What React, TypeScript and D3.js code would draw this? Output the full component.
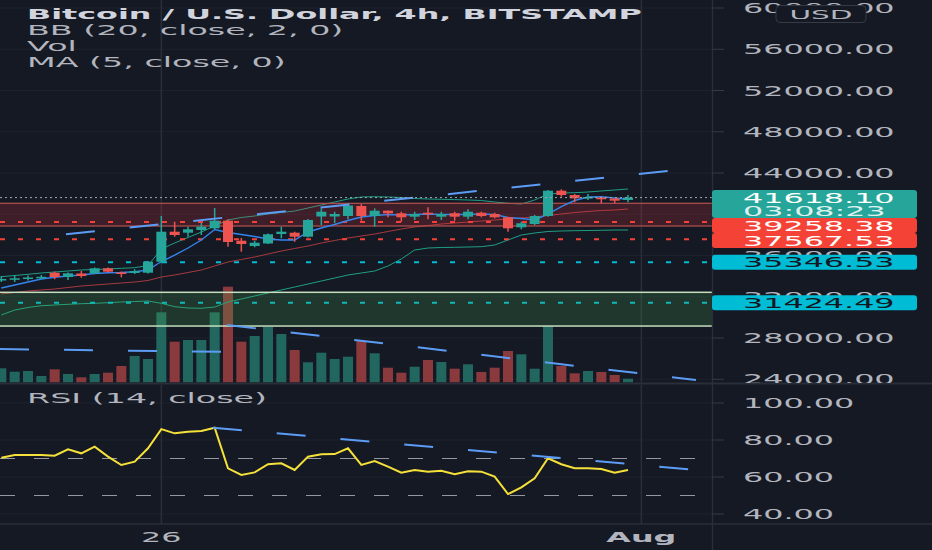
import React from 'react';
import * as d3 from 'd3';

const WIDTH = 932;
const HEIGHT = 550;
const FONT = '"DejaVu Sans", sans-serif';
const STRETCH = 2.27; // the screenshot is stretched sideways

// BTC/USD 4h bars, BITSTAMP, from 24 Jul 2021 00:00 UTC
const firstBar = Date.UTC(2021, 6, 24, 0);
const barMs = 4 * 3600 * 1000;

const opens = [33624, 33721, 33770, 33838, 34332, 33915, 34255, 34274, 34759, 34351, 34303, 34332, 35399, 38308, 38211, 38473, 38637, 39374, 37435, 36921, 37164, 38085, 38211, 37823, 39782, 39782, 39830, 40800, 39830, 40344, 40092, 39762, 40150, 39762, 40092, 39762, 40150, 40024, 39704, 38734, 39055, 39830, 42284, 41867, 41527, 41624, 41527, 41382];
const highs = [34012, 34109, 34061, 34109, 34448, 34351, 34497, 34836, 34836, 34448, 34662, 35467, 39830, 39277, 38793, 39151, 40606, 39510, 37697, 37435, 38133, 38793, 38308, 39539, 40577, 40247, 41062, 40994, 40577, 40364, 40247, 40247, 40674, 40247, 40247, 40480, 40247, 40150, 39762, 39277, 39927, 42351, 42419, 41964, 41964, 41702, 41547, 41867];
const lows = [33430, 33430, 33575, 33721, 33692, 33624, 33848, 34206, 34351, 33886, 34206, 34255, 35243, 37823, 37823, 37988, 38541, 36853, 36368, 36795, 37115, 37668, 37338, 37745, 38958, 39122, 39510, 39374, 38793, 39704, 39277, 39442, 39510, 39442, 39374, 39510, 39704, 39607, 38308, 38541, 38958, 39762, 41702, 41159, 41382, 41062, 41062, 41159];
const closes = [33721, 33790, 33867, 33935, 33915, 34274, 34012, 34759, 34429, 34206, 34497, 35399, 38308, 37988, 38541, 38793, 39374, 37309, 37115, 37241, 38056, 38308, 37823, 39442, 40247, 40024, 40849, 39830, 40344, 40092, 39704, 40024, 39995, 40024, 39762, 40247, 39830, 39704, 38637, 39122, 39830, 42284, 41867, 41547, 41673, 41450, 41314, 41618.1];
const volumes = [1400, 1060, 1130, 630, 1300, 830, 500, 830, 960, 1630, 2630, 2330, 7000, 4060, 4230, 4230, 7000, 9560, 4060, 4630, 5560, 4830, 3230, 2000, 2960, 2330, 2560, 4160, 2900, 1460, 960, 1560, 2230, 2030, 1360, 1800, 1030, 1460, 3130, 2800, 1360, 5630, 1630, 900, 1130, 1030, 730, 360];

const maFive = [32848, 33139, 33430, 33721, 33886, 34012, 34109, 34255, 34332, 34351, 34429, 34594, 35418, 36048, 36727, 37503, 38521, 38230, 38036, 37842, 37600, 37503, 37503, 38279, 38667, 39006, 39394, 39733, 39879, 39976, 39927, 39976, 40024, 39976, 39976, 39976, 40024, 39976, 39685, 39588, 39442, 40024, 40732, 41333, 41673, 41702, 41576, 41430];
const bbUpper = [33944, 34061, 34177, 34303, 34400, 34497, 34594, 34642, 34691, 34759, 34817, 35030, 36630, 37212, 37745, 38279, 38861, 39442, 39685, 39830, 40024, 40170, 40315, 40606, 40897, 41188, 41479, 41673, 41702, 41673, 41624, 41527, 41479, 41450, 41421, 41382, 41333, 41188, 41062, 40994, 41382, 41964, 42061, 42090, 42158, 42255, 42352, 42448];
const bbBasis = [32267, 32412, 32558, 32655, 32751, 32897, 33042, 33139, 33236, 33333, 33430, 33576, 33915, 34109, 34351, 34594, 34982, 35370, 35612, 35855, 36145, 36436, 36679, 36921, 37212, 37455, 37697, 37891, 38085, 38327, 38570, 38764, 38909, 39055, 39151, 39248, 39345, 39442, 39539, 39636, 39733, 39879, 40024, 40170, 40267, 40364, 40412, 40509];
const bbLower = [30230, 30715, 30958, 31132, 31200, 31268, 31326, 31365, 31423, 31491, 31539, 31588, 31365, 31035, 30909, 30880, 31006, 31491, 31782, 32073, 32364, 32655, 32945, 33236, 33527, 33818, 34109, 34303, 34497, 34982, 35661, 36533, 36727, 36776, 36795, 36824, 36853, 37018, 37503, 37988, 38182, 38327, 38376, 38405, 38424, 38444, 38473, 38473];
const rsiValues = [70.4, 71.9, 71.9, 71.9, 71.5, 75.0, 72.8, 76.4, 71.0, 66.5, 68.3, 75.5, 85.9, 83.6, 84.5, 84.9, 86.6, 64.7, 61.1, 62.5, 66.9, 67.4, 63.8, 71.0, 72.3, 72.4, 75.5, 66.5, 68.6, 65.6, 62.3, 63.8, 62.9, 63.4, 61.5, 63.1, 62.9, 60.2, 50.8, 54.4, 59.3, 70.1, 66.9, 64.7, 64.7, 64.3, 62.3, 63.8];

const priceTicks = [24000, 28000, 32000, 36000, 40000, 44000, 48000, 52000, 56000, 60000];
const rsiTicks = [40, 60, 80, 100];
const rsiLevels = [70, 50];
const timeTicks = [
  { date: Date.UTC(2021, 6, 26), label: '26', bold: false },
  { date: Date.UTC(2021, 7, 1), label: 'Aug', bold: true },
];

const lastPrice = 41618.1;
const countdown = '03:08:23';
const redLevels = [39258.38, 37567.53];
const cyanLevels = [35346.53, 31424.49];
const redZone = [38860, 41062];
const greenZone = [29160, 32430];

// drawings: [bar index, value] anchors
const priceTrends = [
  [[4.85, 38056], [50.0, 44194]],
  [[-0.1, 26933], [17.3, 26642]],
  [[16.93, 29261], [52.1, 23927]],
];
const rsiTrend = [[15.87, 86.6], [52.2, 63.8]];

const fmt = d3.format('.2f');

function T(props: any) {
  const { x, y, sx = STRETCH, children, ...rest } = props;
  return (
    <text transform={`translate(${x},${y}) scale(${sx},1)`} fontFamily={FONT} fontSize={14} {...rest}>
      {children}
    </text>
  );
}

export default function App() {
  const x = d3
    .scaleUtc()
    .domain([new Date(firstBar), new Date(Date.UTC(2021, 7, 1))])
    .range([1.33, 641.33]);
  const xBar = (i: number) => x(new Date(firstBar + i * barMs));
  const y = d3.scaleLinear().domain([24000, 60000]).range([379.25, 8]);
  const yRsi = d3.scaleLinear().domain([40, 100]).range([514, 403]);
  const yVol = d3.scaleLinear().domain([0, d3.max(volumes) as number]).range([382.3, 286.7]);

  const paneRight = 712;
  const paneBottom = 383;
  const rsiBottom = 524;
  const up = '#26a69a';
  const down = '#ef5350';

  const priceLine = d3.line<number>().x((_, i) => xBar(i)).y(d => y(d));
  const rsiLine = d3.line<number>().x((_, i) => xBar(i)).y(d => yRsi(d));

  // right-axis price labels, pushed down when they collide
  const tags = [
    { price: lastPrice, fill: up, color: '#ffffff', lines: [fmt(lastPrice), countdown] },
    { price: redLevels[0], fill: '#f44336', color: '#ffffff', lines: [fmt(redLevels[0])] },
    { price: redLevels[1], fill: '#f44336', color: '#ffffff', lines: [fmt(redLevels[1])] },
    { price: cyanLevels[0], fill: '#00bcd4', color: '#131722', lines: [fmt(cyanLevels[0])] },
    { price: cyanLevels[1], fill: '#00bcd4', color: '#131722', lines: [fmt(cyanLevels[1])] },
  ];
  let prevBottom = -Infinity;
  const placed = tags.map(t => {
    const top = Math.max(y(t.price) - 7.5, prevBottom);
    const h = 15 + (t.lines.length - 1) * 13;
    prevBottom = top + h;
    return { ...t, top, h };
  });

  return (
    <svg width={WIDTH} height={HEIGHT} style={{ position: 'fixed', left: 0, top: 0, display: 'block' }}>
      <defs>
        <clipPath id="pricePane">
          <rect x={0} y={0} width={paneRight} height={paneBottom} />
        </clipPath>
        <clipPath id="priceAxis">
          <rect x={paneRight} y={0} width={WIDTH - paneRight} height={paneBottom} />
        </clipPath>
        <clipPath id="rsiPane">
          <rect x={0} y={paneBottom + 2} width={paneRight} height={rsiBottom - paneBottom - 2} />
        </clipPath>
      </defs>
      <rect width={WIDTH} height={HEIGHT} fill="#151924" />

      {/* price pane */}
      <g clipPath="url(#pricePane)">
        {priceTicks.map(p => (
          <line key={p} x1={0} x2={paneRight} y1={y(p)} y2={y(p)} stroke="#1e222d" />
        ))}
        {timeTicks.map(t => (
          <line key={t.label} x1={x(new Date(t.date))} x2={x(new Date(t.date))} y1={0} y2={paneBottom} stroke="#2a2e39" strokeWidth={1.5} />
        ))}

        {volumes.map((v, i) => (
          <rect
            key={i}
            x={xBar(i) - 5}
            width={10}
            y={yVol(v)}
            height={yVol(0) - yVol(v)}
            fill={closes[i] >= opens[i] ? '#22675f' : '#8a3a3d'}
          />
        ))}

        <path d={priceLine(bbUpper) || ''} fill="none" stroke="#1f9e85" strokeWidth={1} />
        <path d={priceLine(bbLower) || ''} fill="none" stroke="#1f9e85" strokeWidth={1} />
        <path d={priceLine(bbBasis) || ''} fill="none" stroke="#a63a3e" strokeWidth={1} />

        {redLevels.map(p => (
          <line key={p} x1={0} x2={paneRight} y1={y(p)} y2={y(p)} stroke="#f44336" strokeWidth={2} strokeDasharray="5 13" />
        ))}
        {cyanLevels.map(p => (
          <line key={p} x1={0} x2={paneRight} y1={y(p)} y2={y(p)} stroke="#00bcd4" strokeWidth={2} strokeDasharray="5 13" />
        ))}

        <rect x={-2} width={paneRight + 4} y={y(redZone[1])} height={y(redZone[0]) - y(redZone[1])} fill="rgba(242,54,69,0.18)" stroke="#b5524f" strokeWidth={1.2} />
        <rect x={-2} width={paneRight + 4} y={y(greenZone[1])} height={y(greenZone[0]) - y(greenZone[1])} fill="rgba(76,175,80,0.2)" stroke="#c5dfbf" strokeWidth={1.5} />

        <path d={priceLine(maFive) || ''} fill="none" stroke="#3584ee" strokeWidth={1.4} />

        {opens.map((o, i) => {
          const c = closes[i];
          const color = c >= o ? up : down;
          const top = y(Math.max(o, c));
          const bh = Math.max(1.5, Math.abs(y(o) - y(c)));
          return (
            <g key={i}>
              <line x1={xBar(i)} x2={xBar(i)} y1={y(highs[i])} y2={y(lows[i])} stroke={color} strokeWidth={1.5} />
              <rect x={xBar(i) - 5} width={10} y={top} height={bh} fill={color} />
            </g>
          );
        })}

        {priceTrends.map((seg, k) => (
          <line
            key={k}
            x1={xBar(seg[0][0])}
            y1={y(seg[0][1])}
            x2={xBar(seg[1][0])}
            y2={y(seg[1][1])}
            stroke="#5d9cf5"
            strokeWidth={2}
            strokeDasharray="29 35"
          />
        ))}

        <line x1={0} x2={paneRight} y1={y(lastPrice)} y2={y(lastPrice)} stroke="#9aa6ad" strokeWidth={1} strokeDasharray="2 3" />
      </g>

      {/* RSI pane */}
      <g clipPath="url(#rsiPane)">
        {rsiTicks.map(v => (
          <line key={v} x1={0} x2={paneRight} y1={yRsi(v)} y2={yRsi(v)} stroke="#1e222d" />
        ))}
        {timeTicks.map(t => (
          <line key={t.label} x1={x(new Date(t.date))} x2={x(new Date(t.date))} y1={paneBottom} y2={rsiBottom} stroke="#2a2e39" strokeWidth={1.5} />
        ))}
        {rsiLevels.map(v => (
          <line key={v} x1={0} x2={paneRight} y1={yRsi(v)} y2={yRsi(v)} stroke="#9598a1" strokeWidth={1.2} strokeDasharray="15 19" />
        ))}
        <path d={rsiLine(rsiValues) || ''} fill="none" stroke="#f5e13a" strokeWidth={2} />
        <line
          x1={xBar(rsiTrend[0][0])}
          y1={yRsi(rsiTrend[0][1])}
          x2={xBar(rsiTrend[1][0])}
          y2={yRsi(rsiTrend[1][1])}
          stroke="#5d9cf5"
          strokeWidth={2}
          strokeDasharray="29 35"
        />
      </g>

      {/* separators */}
      <line x1={0} x2={WIDTH} y1={paneBottom + 0.5} y2={paneBottom + 0.5} stroke="#2a2e39" strokeWidth={2} />
      <line x1={0} x2={WIDTH} y1={rsiBottom} y2={rsiBottom} stroke="#2a2e39" strokeWidth={1.5} />
      <line x1={paneRight + 0.5} x2={paneRight + 0.5} y1={0} y2={HEIGHT} stroke="#2a2e39" strokeWidth={1.5} />

      {/* price axis */}
      <g clipPath="url(#priceAxis)">
        {priceTicks.map(p => (
          <g key={p}>
            <line x1={paneRight} x2={paneRight + 12} y1={y(p)} y2={y(p)} stroke="#363a45" />
            <T x={743} y={y(p) + 5} fill="#b2b5be">{fmt(p)}</T>
          </g>
        ))}
        {placed.map(t => (
          <g key={t.price}>
            <rect x={paneRight} y={t.top} width={205} height={t.h} rx={3} fill={t.fill} />
            {t.lines.map((s, j) => (
              <T key={j} x={743} y={t.top + 12.5 + j * 13} fill={t.color} opacity={j ? 0.85 : 1}>{s}</T>
            ))}
          </g>
        ))}
        <rect x={776} y={5.5} width={90} height={17} rx={4} fill="#151924" stroke="#363a45" />
        <T x={821} y={19} fill="#b2b5be" textAnchor="middle" fontSize={13}>USD</T>
      </g>

      {/* RSI axis */}
      {rsiTicks.map(v => (
        <g key={v}>
          <line x1={paneRight} x2={paneRight + 12} y1={yRsi(v)} y2={yRsi(v)} stroke="#363a45" />
          <T x={743} y={yRsi(v) + 5} fill="#b2b5be">{fmt(v)}</T>
        </g>
      ))}

      {/* time axis */}
      {timeTicks.map(t => (
        <T key={t.label} x={x(new Date(t.date))} y={541.5} fill="#b2b5be" textAnchor="middle" fontWeight={t.bold ? 'bold' : 'normal'}>
          {t.label}
        </T>
      ))}

      {/* legends */}
      <T x={27} y={19.3} fill="#d1d4dc" fontWeight="bold">Bitcoin / U.S. Dollar, 4h, BITSTAMP</T>
      <T x={27} y={35} sx={2.38} fill="#b2b5be">BB (20, close, 2, 0)</T>
      <T x={27} y={51} sx={2.38} fill="#b2b5be">Vol</T>
      <T x={27} y={67} sx={2.38} fill="#b2b5be">MA (5, close, 0)</T>
      <T x={27} y={403} sx={2.38} fill="#b2b5be">RSI (14, close)</T>
    </svg>
  );
}
